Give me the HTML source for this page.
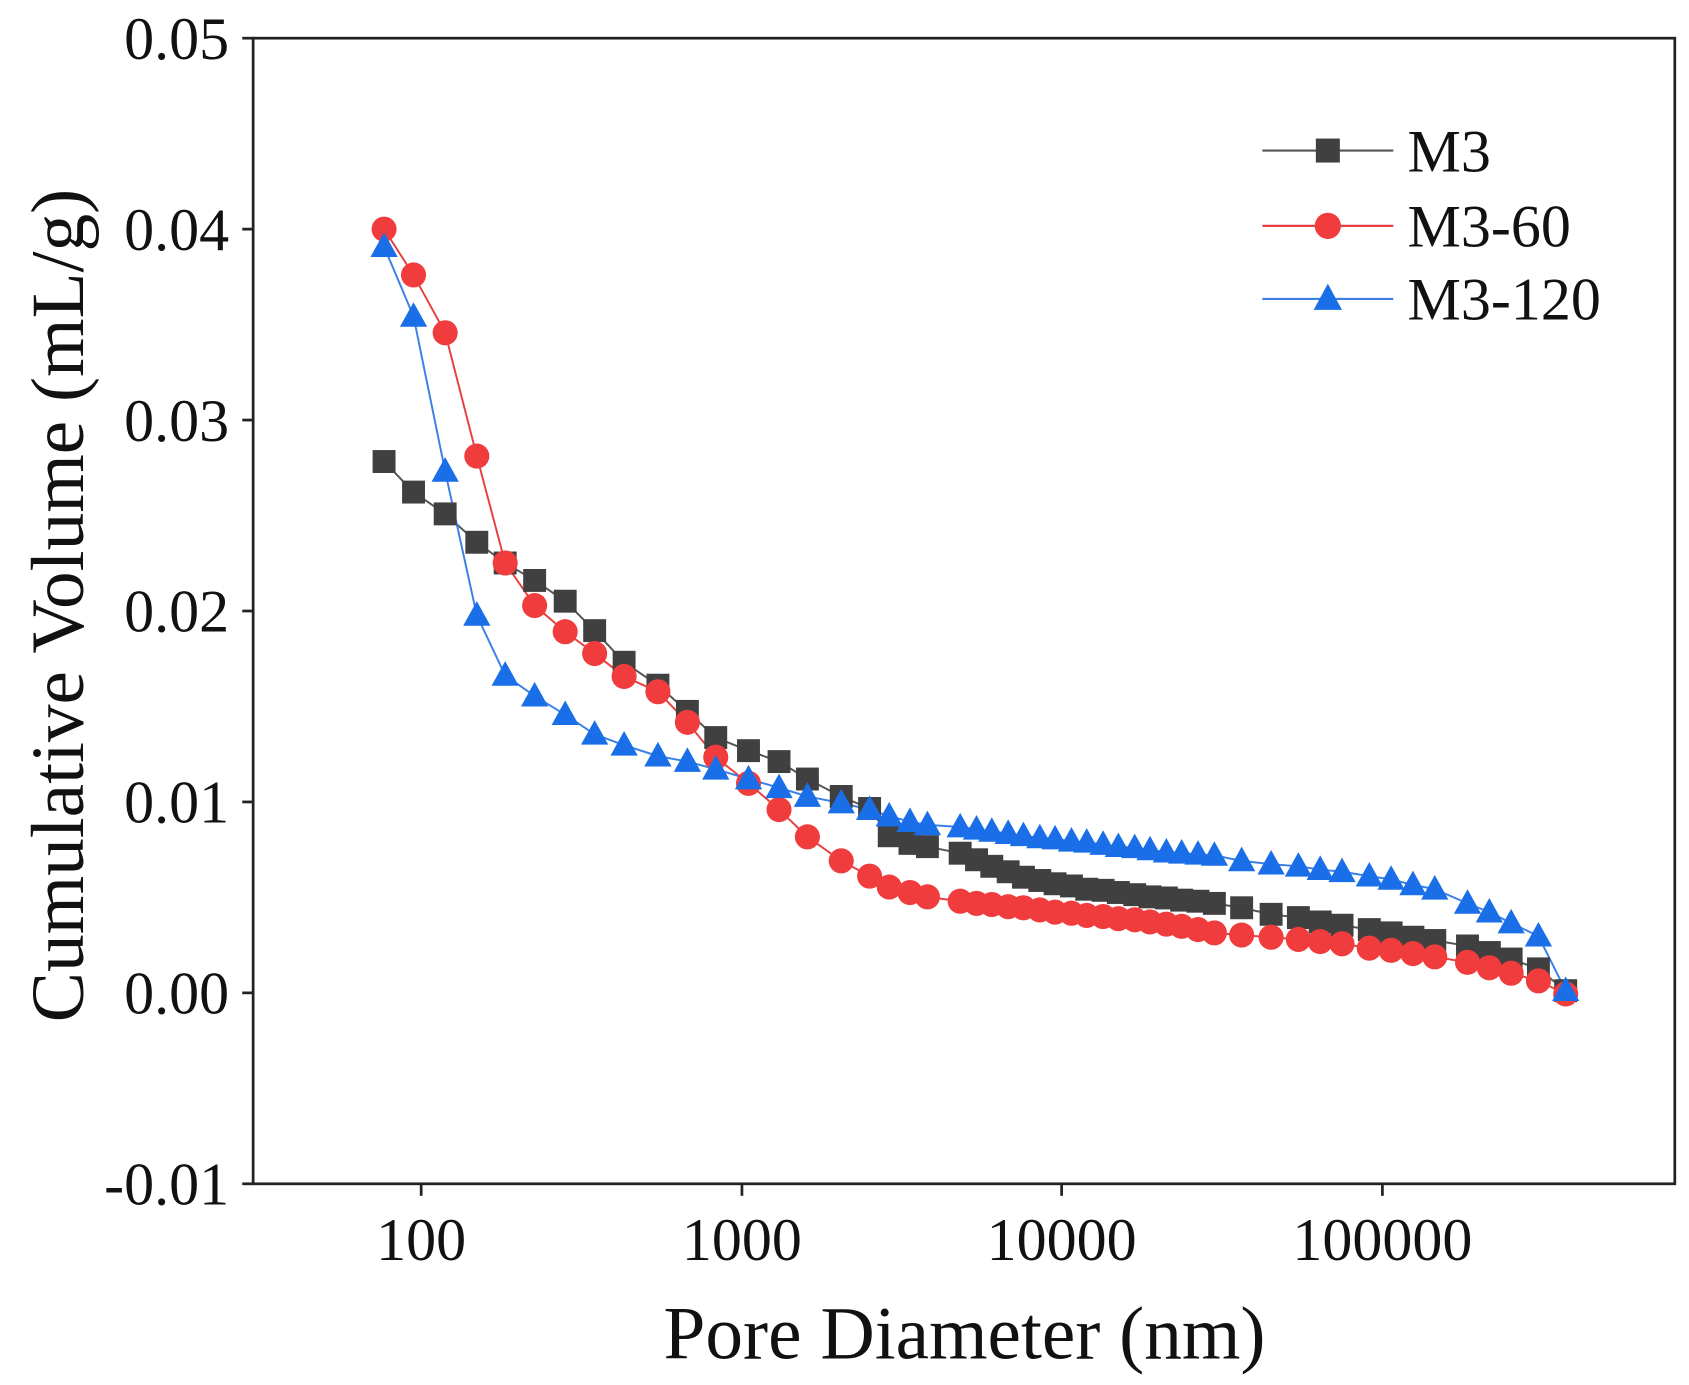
<!DOCTYPE html>
<html><head><meta charset="utf-8"><style>html,body{margin:0;padding:0;background:#fff}svg{display:block}</style></head>
<body>
<svg width="1689" height="1385" viewBox="0 0 1548 1269.4" xmlns="http://www.w3.org/2000/svg" xmlns:xlink="http://www.w3.org/1999/xlink" font-family="'Liberation Serif', serif">
<defs>
<rect id="sq" x="-10.5" y="-10.5" width="21" height="21" fill="#404040"/>
<circle id="ci" cx="0" cy="0" r="11.5" fill="#f03c3c"/>
<polygon id="tr" points="0,-13 12.5,9.5 -12.5,9.5" fill="#1a6fe8"/>
</defs>
<rect x="0" y="0" width="1548" height="1270" fill="#fff"/>
<rect x="232" y="35" width="1303" height="1050" fill="none" stroke="#222" stroke-width="2.5"/>
<g stroke="#222" stroke-width="2.5">
<line x1="386" y1="1085" x2="386" y2="1096"/><line x1="680" y1="1085" x2="680" y2="1096"/>
<line x1="973" y1="1085" x2="973" y2="1096"/><line x1="1267" y1="1085" x2="1267" y2="1096"/>
<line x1="222" y1="35" x2="232" y2="35"/><line x1="222" y1="210" x2="232" y2="210"/>
<line x1="222" y1="385" x2="232" y2="385"/><line x1="222" y1="560" x2="232" y2="560"/>
<line x1="222" y1="735" x2="232" y2="735"/><line x1="222" y1="910" x2="232" y2="910"/>
<line x1="222" y1="1085" x2="232" y2="1085"/>
</g>
<g font-size="55" fill="#111" text-anchor="end">
<text x="210" y="54">0.05</text><text x="210" y="229">0.04</text><text x="210" y="404">0.03</text>
<text x="210" y="579">0.02</text><text x="210" y="754">0.01</text><text x="210" y="929">0.00</text>
<text x="210" y="1104">-0.01</text>
</g>
<g font-size="55" fill="#111" text-anchor="middle">
<text x="386" y="1155">100</text><text x="680" y="1155">1000</text><text x="973" y="1155">10000</text><text x="1267" y="1155">100000</text>
</g>
<text x="884" y="1245" font-size="69" text-anchor="middle" fill="#111">Pore Diameter (nm)</text>
<text transform="translate(76,555) rotate(-90)" font-size="69" text-anchor="middle" fill="#111">Cumulative Volume (mL/g)</text>

<polyline fill="none" stroke="#555" stroke-width="1.8" points="352,423 379,451 408,471 437,497 463,516 490,532 518,551 545,578 572,607 603,628 630,652 656,676 686,688 714,698 740,714 771,730 797,741 815,766 834,773 850,776 880,782 895,788 909,794 924,799 938,804 953,807 967,810 982,812 996,815 1011,816 1025,818 1040,820 1054,822 1069,823 1083,825 1098,826 1113,828 1138,832 1165,838 1190,841 1210,845 1230,848 1255,852 1275,855 1295,859 1315,862 1345,867 1365,873 1385,879 1410,888 1435,908"/>
<polyline fill="none" stroke="#e84040" stroke-width="1.8" points="352,210 379,252 408,305 437,418 463,516 490,555 518,579 545,599 572,620 603,634 630,662 656,694 686,718 714,742 740,767 771,789 797,803 815,813 834,818 850,822 880,826 895,828 909,829 924,831 938,832 953,834 967,836 982,837 996,839 1011,840 1025,842 1040,843 1054,845 1069,847 1083,849 1098,852 1113,855 1138,857 1165,859 1190,861 1210,863 1230,865 1255,869 1275,871 1295,874 1315,877 1345,882 1365,887 1385,892 1410,899 1435,911"/>
<polyline fill="none" stroke="#3a80e8" stroke-width="1.8" points="352,226 379,290 408,432 437,564 463,619 490,638 518,655 545,673 572,683 603,693 630,698 656,705 686,714 714,722 740,730 771,736 797,742 815,748 834,753 850,756 880,758 895,760 909,762 924,764 938,766 953,768 967,769 982,771 996,772 1011,774 1025,776 1040,777 1054,779 1069,781 1083,782 1098,783 1113,784 1138,789 1165,792 1190,794 1210,797 1230,799 1255,803 1275,806 1295,811 1315,815 1345,828 1365,836 1385,846 1410,858 1435,908"/>

<g>
<use xlink:href="#sq" x="352" y="423"/><use xlink:href="#sq" x="379" y="451"/><use xlink:href="#sq" x="408" y="471"/><use xlink:href="#sq" x="437" y="497"/><use xlink:href="#sq" x="463" y="516"/><use xlink:href="#sq" x="490" y="532"/><use xlink:href="#sq" x="518" y="551"/><use xlink:href="#sq" x="545" y="578"/><use xlink:href="#sq" x="572" y="607"/><use xlink:href="#sq" x="603" y="628"/><use xlink:href="#sq" x="630" y="652"/><use xlink:href="#sq" x="656" y="676"/><use xlink:href="#sq" x="686" y="688"/><use xlink:href="#sq" x="714" y="698"/><use xlink:href="#sq" x="740" y="714"/><use xlink:href="#sq" x="771" y="730"/><use xlink:href="#sq" x="797" y="741"/><use xlink:href="#sq" x="815" y="766"/><use xlink:href="#sq" x="834" y="773"/><use xlink:href="#sq" x="850" y="776"/><use xlink:href="#sq" x="880" y="782"/><use xlink:href="#sq" x="895" y="788"/><use xlink:href="#sq" x="909" y="794"/><use xlink:href="#sq" x="924" y="799"/><use xlink:href="#sq" x="938" y="804"/><use xlink:href="#sq" x="953" y="807"/><use xlink:href="#sq" x="967" y="810"/><use xlink:href="#sq" x="982" y="812"/><use xlink:href="#sq" x="996" y="815"/><use xlink:href="#sq" x="1011" y="816"/><use xlink:href="#sq" x="1025" y="818"/><use xlink:href="#sq" x="1040" y="820"/><use xlink:href="#sq" x="1054" y="822"/><use xlink:href="#sq" x="1069" y="823"/><use xlink:href="#sq" x="1083" y="825"/><use xlink:href="#sq" x="1098" y="826"/><use xlink:href="#sq" x="1113" y="828"/><use xlink:href="#sq" x="1138" y="832"/><use xlink:href="#sq" x="1165" y="838"/><use xlink:href="#sq" x="1190" y="841"/><use xlink:href="#sq" x="1210" y="845"/><use xlink:href="#sq" x="1230" y="848"/><use xlink:href="#sq" x="1255" y="852"/><use xlink:href="#sq" x="1275" y="855"/><use xlink:href="#sq" x="1295" y="859"/><use xlink:href="#sq" x="1315" y="862"/><use xlink:href="#sq" x="1345" y="867"/><use xlink:href="#sq" x="1365" y="873"/><use xlink:href="#sq" x="1385" y="879"/><use xlink:href="#sq" x="1410" y="888"/><use xlink:href="#sq" x="1435" y="908"/>
</g>
<g>
<use xlink:href="#ci" x="352" y="210"/><use xlink:href="#ci" x="379" y="252"/><use xlink:href="#ci" x="408" y="305"/><use xlink:href="#ci" x="437" y="418"/><use xlink:href="#ci" x="463" y="516"/><use xlink:href="#ci" x="490" y="555"/><use xlink:href="#ci" x="518" y="579"/><use xlink:href="#ci" x="545" y="599"/><use xlink:href="#ci" x="572" y="620"/><use xlink:href="#ci" x="603" y="634"/><use xlink:href="#ci" x="630" y="662"/><use xlink:href="#ci" x="656" y="694"/><use xlink:href="#ci" x="686" y="718"/><use xlink:href="#ci" x="714" y="742"/><use xlink:href="#ci" x="740" y="767"/><use xlink:href="#ci" x="771" y="789"/><use xlink:href="#ci" x="797" y="803"/><use xlink:href="#ci" x="815" y="813"/><use xlink:href="#ci" x="834" y="818"/><use xlink:href="#ci" x="850" y="822"/><use xlink:href="#ci" x="880" y="826"/><use xlink:href="#ci" x="895" y="828"/><use xlink:href="#ci" x="909" y="829"/><use xlink:href="#ci" x="924" y="831"/><use xlink:href="#ci" x="938" y="832"/><use xlink:href="#ci" x="953" y="834"/><use xlink:href="#ci" x="967" y="836"/><use xlink:href="#ci" x="982" y="837"/><use xlink:href="#ci" x="996" y="839"/><use xlink:href="#ci" x="1011" y="840"/><use xlink:href="#ci" x="1025" y="842"/><use xlink:href="#ci" x="1040" y="843"/><use xlink:href="#ci" x="1054" y="845"/><use xlink:href="#ci" x="1069" y="847"/><use xlink:href="#ci" x="1083" y="849"/><use xlink:href="#ci" x="1098" y="852"/><use xlink:href="#ci" x="1113" y="855"/><use xlink:href="#ci" x="1138" y="857"/><use xlink:href="#ci" x="1165" y="859"/><use xlink:href="#ci" x="1190" y="861"/><use xlink:href="#ci" x="1210" y="863"/><use xlink:href="#ci" x="1230" y="865"/><use xlink:href="#ci" x="1255" y="869"/><use xlink:href="#ci" x="1275" y="871"/><use xlink:href="#ci" x="1295" y="874"/><use xlink:href="#ci" x="1315" y="877"/><use xlink:href="#ci" x="1345" y="882"/><use xlink:href="#ci" x="1365" y="887"/><use xlink:href="#ci" x="1385" y="892"/><use xlink:href="#ci" x="1410" y="899"/><use xlink:href="#ci" x="1435" y="911"/>
</g>
<g>
<use xlink:href="#tr" x="352" y="226"/><use xlink:href="#tr" x="379" y="290"/><use xlink:href="#tr" x="408" y="432"/><use xlink:href="#tr" x="437" y="564"/><use xlink:href="#tr" x="463" y="619"/><use xlink:href="#tr" x="490" y="638"/><use xlink:href="#tr" x="518" y="655"/><use xlink:href="#tr" x="545" y="673"/><use xlink:href="#tr" x="572" y="683"/><use xlink:href="#tr" x="603" y="693"/><use xlink:href="#tr" x="630" y="698"/><use xlink:href="#tr" x="656" y="705"/><use xlink:href="#tr" x="686" y="714"/><use xlink:href="#tr" x="714" y="722"/><use xlink:href="#tr" x="740" y="730"/><use xlink:href="#tr" x="771" y="736"/><use xlink:href="#tr" x="797" y="742"/><use xlink:href="#tr" x="815" y="748"/><use xlink:href="#tr" x="834" y="753"/><use xlink:href="#tr" x="850" y="756"/><use xlink:href="#tr" x="880" y="758"/><use xlink:href="#tr" x="895" y="760"/><use xlink:href="#tr" x="909" y="762"/><use xlink:href="#tr" x="924" y="764"/><use xlink:href="#tr" x="938" y="766"/><use xlink:href="#tr" x="953" y="768"/><use xlink:href="#tr" x="967" y="769"/><use xlink:href="#tr" x="982" y="771"/><use xlink:href="#tr" x="996" y="772"/><use xlink:href="#tr" x="1011" y="774"/><use xlink:href="#tr" x="1025" y="776"/><use xlink:href="#tr" x="1040" y="777"/><use xlink:href="#tr" x="1054" y="779"/><use xlink:href="#tr" x="1069" y="781"/><use xlink:href="#tr" x="1083" y="782"/><use xlink:href="#tr" x="1098" y="783"/><use xlink:href="#tr" x="1113" y="784"/><use xlink:href="#tr" x="1138" y="789"/><use xlink:href="#tr" x="1165" y="792"/><use xlink:href="#tr" x="1190" y="794"/><use xlink:href="#tr" x="1210" y="797"/><use xlink:href="#tr" x="1230" y="799"/><use xlink:href="#tr" x="1255" y="803"/><use xlink:href="#tr" x="1275" y="806"/><use xlink:href="#tr" x="1295" y="811"/><use xlink:href="#tr" x="1315" y="815"/><use xlink:href="#tr" x="1345" y="828"/><use xlink:href="#tr" x="1365" y="836"/><use xlink:href="#tr" x="1385" y="846"/><use xlink:href="#tr" x="1410" y="858"/><use xlink:href="#tr" x="1435" y="908"/>
</g>

<g font-size="55" fill="#111">
<line x1="1157" y1="138" x2="1277" y2="138" stroke="#555" stroke-width="2"/><rect x="1206" y="127" width="22" height="22" fill="#404040"/>
<text x="1290" y="157">M3</text>
<line x1="1157" y1="207" x2="1277" y2="207" stroke="#e84040" stroke-width="2"/><circle cx="1217" cy="207" r="12" fill="#f03c3c"/>
<text x="1290" y="226">M3-60</text>
<line x1="1157" y1="274" x2="1277" y2="274" stroke="#3a80e8" stroke-width="2"/><polygon points="1217,260 1230,284 1204,284" fill="#1a6fe8"/>
<text x="1290" y="293">M3-120</text>
</g>
</svg>
</body></html>
